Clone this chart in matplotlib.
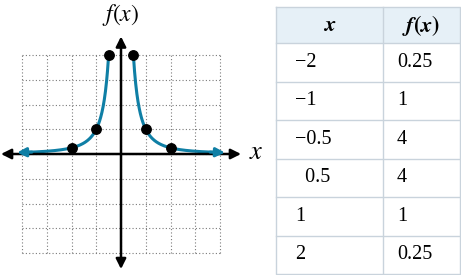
import numpy as np
import matplotlib.pyplot as plt

# table values
x_vals = ["\u22122", "\u22121", "\u22120.5", "\u20070.5", "1", "2"]
fx_vals = ["0.25", "1", "4", "4", "1", "0.25"]
pts_x = [-2, -1, -0.5, 0.5, 1, 2]
pts_y = [0.25, 1, 4, 4, 1, 0.25]

curve_color = "#0f7fa5"
serif = ["Liberation Serif", "DejaVu Serif"]

fig = plt.figure(figsize=(4.61, 2.75), dpi=100)

# --- graph, one grid unit = 24.75 px
W, H = 461, 275
u = 24.75
ox, oy = 121, 154  # origin in pixels (from top-left)
ax = fig.add_axes([0, 0, 270 / W, 1])
ax.set_xlim(-ox / u, (270 - ox) / u)
ax.set_ylim(-(H - oy) / u, oy / u)
ax.axis("off")

for g in range(-4, 5):
    ax.plot([g, g], [-4, 4], ls=(0, (1, 2)), color="#7a7a7a", lw=0.8)
    ax.plot([-4, 4], [g, g], ls=(0, (1, 2)), color="#7a7a7a", lw=0.8)

# axes with arrows
ax.annotate("", xy=(-4.85, 0), xytext=(4.85, 0),
            arrowprops=dict(arrowstyle="<|-|>", color="black", lw=1.8,
                            mutation_scale=15, shrinkA=0, shrinkB=0))
ax.annotate("", xy=(0, -4.65), xytext=(0, 4.75),
            arrowprops=dict(arrowstyle="<|-|>", color="black", lw=1.8,
                            mutation_scale=15, shrinkA=0, shrinkB=0))

# curve f(x) = 1/x^2
xl = np.linspace(-4.0, -0.5, 300)
xr = np.linspace(0.5, 4.0, 300)
ax.plot(xl, 1 / xl**2, color=curve_color, lw=2.2, solid_capstyle="butt")
ax.plot(xr, 1 / xr**2, color=curve_color, lw=2.2, solid_capstyle="butt")
ax.annotate("", xy=(-4.2, 1 / 4.2**2), xytext=(-3.6, 1 / 3.6**2),
            arrowprops=dict(arrowstyle="-|>", color=curve_color, lw=2.2,
                            mutation_scale=13, shrinkA=0, shrinkB=0))
ax.annotate("", xy=(4.2, 1 / 4.2**2), xytext=(3.6, 1 / 3.6**2),
            arrowprops=dict(arrowstyle="-|>", color=curve_color, lw=2.2,
                            mutation_scale=13, shrinkA=0, shrinkB=0))
ax.plot(pts_x, pts_y, "o", color="black", ms=6.8, zorder=5)

ax.text(0, 5.6, "$f(x)$", ha="center", va="center", fontsize=17,
        math_fontfamily="stix")
ax.text(5.45, 0.1, "$x$", ha="center", va="center", fontsize=19,
        math_fontfamily="stix")

# --- table in pixel coordinates
tx = fig.add_axes([270 / W, 0, 191 / W, 1])
tx.set_xlim(270, 461)
tx.set_ylim(275, 0)
tx.axis("off")

left, mid, right = 276, 383, 460
top, head_bot = 7, 43
row_h = 38.5
bottom = head_bot + row_h * len(x_vals)
border = "#c9d3dc"

tx.fill_between([left, right], top, head_bot, color="#e6f0f7", lw=0)
tx.plot([left, right, right, left, left], [top, top, bottom, bottom, top],
        color=border, lw=1)
tx.plot([mid, mid], [top, bottom], color=border, lw=1)
for i in range(len(x_vals)):
    y = head_bot + row_h * i
    tx.plot([left, right], [y, y], color=border, lw=1)

tx.text((left + mid) / 2, (top + head_bot) / 2, "$\\boldsymbol{x}$",
        ha="center", va="center", fontsize=16, math_fontfamily="stix")
tx.text((mid + right) / 2, (top + head_bot) / 2, "$\\boldsymbol{f(x)}$",
        ha="center", va="center", fontsize=16, math_fontfamily="stix")
for i, (a, b) in enumerate(zip(x_vals, fx_vals)):
    yc = head_bot + row_h * (i + 0.5)
    tx.text(left + 19, yc, a, ha="left", va="center", fontsize=14.5,
            family=serif)
    tx.text(mid + 14, yc, b, ha="left", va="center", fontsize=14.5,
            family=serif)

fig.savefig("out.png", dpi=100)
